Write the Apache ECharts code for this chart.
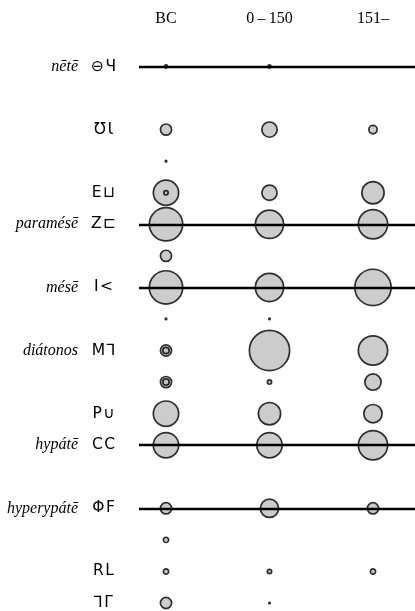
<!DOCTYPE html>
<html>
<head>
<meta charset="utf-8">
<script src="https://cdn.jsdelivr.net/npm/echarts@6/dist/echarts.min.js"></script>
<style>
html,body{margin:0;padding:0;background:#fff;}
#chart{width:415px;height:611px;}
</style>
</head>
<body>
<div id="chart"></div>
<script>
// Column categories (periods)
const periods = ['BC', '0\u2009–\u2009150', '151–'];
// Row labels: notation symbols and note names (top to bottom)
const noteSymbols = ['⊖Ч', '', 'ƱƖ', '', 'E⊔', 'Z⊏', '', 'I<', '', 'M⅂', '', 'P∪', 'CC', '', 'ΦF', '', 'RL', '⅂Γ'];
const noteNames = ['nētē', '', '', '', '', 'paramésē', '', 'mésē', '', 'diátonos', '', '', 'hypátē', '', 'hyperypátē', '', '', ''];
// Rows marked with a horizontal line (fixed notes)
const fixedRows = [0, 5, 7, 12, 14];
// Bubble values per period, one per row (null = none)
const valuesBC  = [1, null, 11, 0.25, 54, 93, 11, 93, 0.25, 11, 11, 54, 54, null, 11, 2.6, 2.6, 11];
const values0   = [1, null, 20, null, 20, 67, null, 67, 0.25, 135, 1.8, 42, 54, null, 28.5, null, 1.8, 0.25];
const values151 = [null, null, 6.2, null, 42, 72, null, 110, null, 72, 22.8, 28.5, 72, null, 11, null, 2.6, null];
// Secondary (overlaid) values, BC only
const overlayBC = [null, null, null, null, 1.8, null, null, null, null, 3.7, 3.7, null, null, null, null, null, null, null];

const allValues = [valuesBC, values0, values151];
const rowIdx = noteSymbols.map((_, i) => String(i));

function toPoints(cols) {
  const pts = [];
  cols.forEach((arr, c) => {
    arr.forEach((v, r) => { if (v != null) pts.push([c, r, v]); });
  });
  return pts;
}
const mainData = toPoints(allValues);
const overlayData = toPoints([overlayBC]);

const sizeFn = d => Math.max(1.5, 3.5 * Math.sqrt(d[2]) - 0.4);
const bubbleStyle = { color: '#bfbfbf', borderColor: '#000', borderWidth: 1.7 };

const chart = echarts.init(document.getElementById('chart'), null, { renderer: 'canvas' });
chart.setOption({
  animation: false,
  backgroundColor: '#fff',
  grid: { left: 139, right: 0, top: 66.5, bottom: 5 },
  xAxis: {
    type: 'value', position: 'top', min: -0.261, max: 2.406,
    axisLine: { show: false }, axisTick: { show: false }, splitLine: { show: false },
    axisLabel: {
      customValues: [0, 1, 2],
      formatter: v => periods[Math.round(v)] || '',
      fontFamily: 'Liberation Serif', fontSize: 16, color: '#000',
      margin: 48, verticalAlign: 'middle'
    }
  },
  yAxis: [
    {
      type: 'category', data: rowIdx, inverse: true, boundaryGap: false,
      axisLine: { show: false }, axisTick: { show: false }, splitLine: { show: false },
      axisLabel: {
        interval: 0, formatter: (v, i) => noteSymbols[i].split('').join('\u200a'),
        fontFamily: 'DejaVu Sans', fontSize: 15.5, color: '#000',
        align: 'center', margin: 35.5
      }
    },
    {
      type: 'category', data: rowIdx, inverse: true, boundaryGap: false, position: 'left',
      axisLine: { show: false }, axisTick: { show: false }, splitLine: { show: false },
      axisLabel: {
        interval: 0, formatter: (v, i) => noteNames[i],
        fontFamily: 'Liberation Serif', fontStyle: 'italic', fontSize: 16, color: '#000',
        align: 'right', margin: 61
      }
    }
  ],
  series: [
    {
      type: 'scatter', z: 2, data: mainData, symbol: 'circle',
      symbolSize: sizeFn, itemStyle: bubbleStyle, silent: true
    },
    {
      type: 'scatter', z: 3, data: overlayData, symbol: 'circle',
      symbolSize: sizeFn, itemStyle: bubbleStyle, silent: true
    },
    {
      type: 'scatter', z: 4, data: [], silent: true,
      markLine: {
        silent: true, symbol: ['none', 'none'], label: { show: false },
        lineStyle: { color: '#000', width: 2.4, type: 'solid' },
        data: fixedRows.map(r => ({ yAxis: r }))
      }
    }
  ]
});
</script>
</body>
</html>
